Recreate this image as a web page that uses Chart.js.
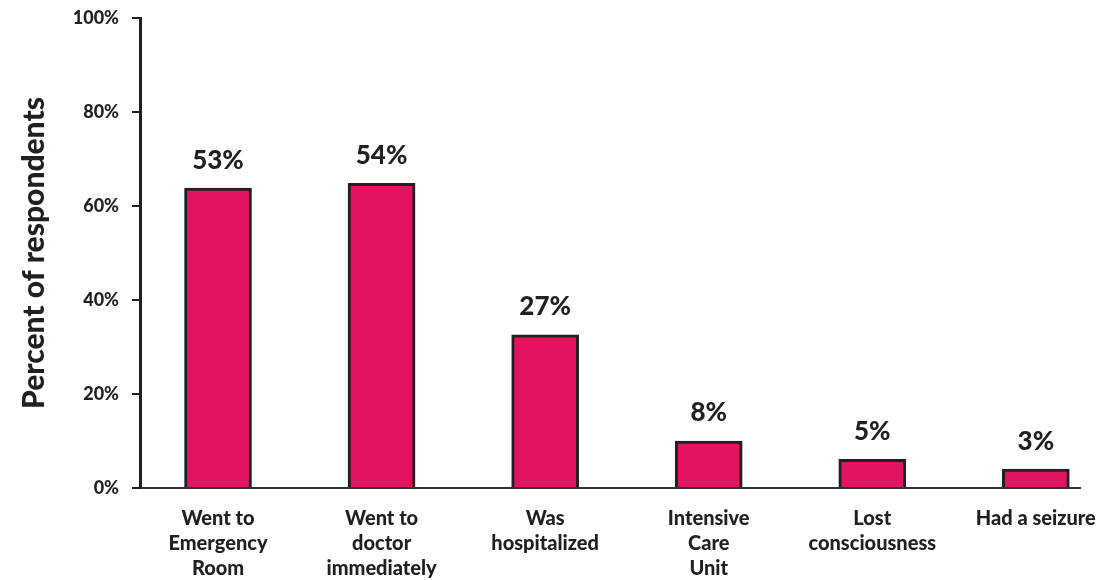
<!DOCTYPE html>
<html>
<head>
<meta charset="utf-8">
<script src="https://cdn.jsdelivr.net/npm/chart.js@4.4.1/dist/chart.umd.min.js"></script>
<style>
  html, body { margin: 0; padding: 0; background: #fff; }
  #wrap { width: 1108px; height: 580px; }
</style>
</head>
<body>
<div id="wrap"><canvas id="chart" width="1108" height="580"></canvas></div>
<script>
// data
const categories = [
  ["Went to", "Emergency", "Room"],
  ["Went to", "doctor", "immediately"],
  ["Was", "hospitalized"],
  ["Intensive", "Care", "Unit"],
  ["Lost", "consciousness"],
  ["Had a seizure"]
];
const barHeights = [63.8, 64.8, 32.6, 10.0, 6.1, 4.0];   // drawn height of each bar
const barLabels = [53, 54, 27, 8, 5, 3];                   // printed value above each bar
const yTicks = [0, 20, 40, 60, 80, 100];

const ink = "#231f20";
const font = "Lato, 'DejaVu Sans', sans-serif";

// value labels above bars
const valueLabels = {
  id: "valueLabels",
  afterDatasetsDraw(chart) {
    const ctx = chart.ctx;
    const meta = chart.getDatasetMeta(0);
    ctx.save();
    ctx.fillStyle = ink;
    ctx.font = "900 26px " + font;
    ctx.textAlign = "center";
    ctx.textBaseline = "middle";
    meta.data.forEach((bar, i) => {
      ctx.fillText(barLabels[i] + "%", bar.x, bar.y - 28);
    });
    ctx.restore();
  }
};

new Chart(document.getElementById("chart"), {
  type: "bar",
  data: {
    datasets: [{
      data: barHeights.map((v, i) => ({ x: i, y: v })),
      backgroundColor: "#e41361",
      borderColor: ink,
      borderWidth: 3,
      barThickness: 67
    }]
  },
  options: {
    responsive: false,
    animation: false,
    layout: { padding: { top: 18, right: 28, left: 0, bottom: 0 } },
    plugins: { legend: { display: false }, tooltip: { enabled: false } },
    scales: {
      x: {
        type: "linear",
        offset: false,
        min: -0.477,
        max: 5.27,
        afterBuildTicks: s => { s.ticks = categories.map((_, i) => ({ value: i })); },
        afterFit: s => { s.height = 92; s.paddingLeft = 0; s.paddingRight = 0; },
        grid: { display: false },
        border: { display: true, color: "#333", width: 2 },
        ticks: {
          autoSkip: false,
          maxRotation: 0,
          padding: 10,
          color: ink,
          font: { family: font, size: 20, weight: "900", lineHeight: 1.25 },
          callback: v => categories[v]
        }
      },
      y: {
        min: 0,
        max: 100,
        afterBuildTicks: s => { s.ticks = yTicks.map(v => ({ value: v })); },
        afterFit: s => { s.width = 140; s.paddingTop = 0; s.paddingBottom = 0; },
        grid: { drawOnChartArea: false, drawTicks: true, tickLength: 8, color: ink, lineWidth: 2 },
        border: { display: true, color: ink, width: 3 },
        ticks: {
          padding: 13,
          color: ink,
          font: { family: font, size: 18, weight: "900" },
          callback: v => v + "%"
        },
        title: {
          display: true,
          text: "Percent of respondents",
          color: ink,
          font: { family: font, size: 30, weight: "900" },
          padding: { top: 16, bottom: 0 }
        }
      }
    }
  },
  plugins: [valueLabels]
});
</script>
</body>
</html>
